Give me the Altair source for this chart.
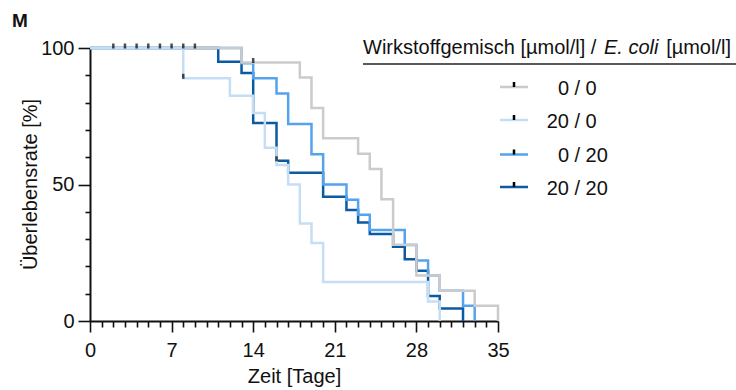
import altair as alt
import pandas as pd

# Kaplan-Meier survival curves, one per treatment group
groups = ["0 / 0", "20 / 0", "0 / 20", "20 / 20"]
colors = ["#cbcbcb", "#c6ddf6", "#55a2ee", "#0b5ba3"]

days_00 = [0, 13, 18, 19, 20, 23, 24, 25, 26, 28, 30, 33, 35]
surv_00 = [100, 94.7, 89.2, 78.0, 66.9, 61.3, 55.7, 44.6, 27.9, 16.7, 11.1, 5.6, 0]

days_200 = [0, 8, 12, 14, 15, 16, 17, 18, 19, 20, 29, 30]
surv_200 = [100, 88.9, 82.5, 76.2, 63.5, 57.1, 50.0, 35.7, 28.6, 14.3, 7.1, 0]

days_020 = [0, 13, 14, 16, 17, 19, 20, 22, 23, 24, 27, 28, 29, 30, 32, 33]
surv_020 = [100, 94.4, 88.9, 83.3, 72.2, 61.1, 50.0, 44.4, 38.9, 33.3, 27.8, 22.2, 16.7, 11.1, 5.6, 0]

days_2020 = [0, 11, 13, 14, 16, 17, 20, 22, 23, 24, 26, 27, 28, 29, 30, 32]
surv_2020 = [100, 95.0, 90.8, 72.5, 58.7, 54.3, 45.5, 40.7, 36.1, 31.9, 27.2, 22.6, 18.4, 9.2, 4.6, 0]

# censored observations (drawn as small black ticks)
censor_days = [2, 3, 4, 5, 6, 7, 8, 9, 8, 14, 16]
censor_surv = [100, 100, 100, 100, 100, 100, 100, 100, 88.9, 94.7, 58.7]

x_ticks = list(range(0, 36))
y_ticks = list(range(0, 101, 10))

FONT = "Liberation Sans"
FS = 20
INK = "#111111"

series = {
    "0 / 0": (days_00, surv_00),
    "20 / 0": (days_200, surv_200),
    "0 / 20": (days_020, surv_020),
    "20 / 20": (days_2020, surv_2020),
}

x_enc = alt.X(
    "day:Q",
    scale=alt.Scale(domain=[0, 35], nice=False, zero=False),
    axis=alt.Axis(
        values=x_ticks,
        labelExpr="datum.value % 7 === 0 ? datum.label : ''",
        tickSize={"condition": {"test": "datum.value % 7 === 0", "value": 11}, "value": 6},
        labelPadding=8,
        labelFlush=False,
        labelOverlap=False,
        title="Zeit [Tage]",
        titleX=204,
        titleY=61,
        titleBaseline="alphabetic",
        titleAlign="center",
    ),
)
y_enc = alt.Y(
    "surv:Q",
    scale=alt.Scale(domain=[0, 100], nice=False),
    axis=alt.Axis(
        values=y_ticks,
        labelExpr="datum.value % 50 === 0 ? datum.label : ''",
        tickSize={"condition": {"test": "datum.value % 50 === 0", "value": 12}, "value": 5},
        labelPadding=4,
        labelFlush=False,
        labelOverlap=False,
        title="Überlebensrate [%]",
        titleX=-54,
        titleY=136,
        titleBaseline="alphabetic",
        titleAlign="center",
        titleAngle=-90,
    ),
)

layers = []
draw_order = ["20 / 20", "0 / 20", "0 / 0", "20 / 0"]
for g in draw_order:
    d, s = series[g]
    df = pd.DataFrame({"day": d, "surv": s})
    layers.append(
        alt.Chart(df)
        .mark_line(interpolate="step-after", strokeWidth=2.5, color=colors[groups.index(g)])
        .encode(x=x_enc, y=y_enc)
    )

cens_df = pd.DataFrame({"day": censor_days, "surv": censor_surv})
layers.append(
    alt.Chart(cens_df)
    .mark_tick(orient="vertical", size=5, thickness=2.5, color="black", yOffset=-2)
    .encode(x=x_enc, y=y_enc)
)

# legend title in three runs (species name in italics) and a rule underneath
layers.append(
    alt.Chart(pd.DataFrame({"t": ["Wirkstoffgemisch [µmol/l] /"]}))
    .mark_text(align="left", baseline="alphabetic", font=FONT, fontSize=FS, color=INK)
    .encode(text="t:N", x=alt.value(273), y=alt.value(5.5))
)
layers.append(
    alt.Chart(pd.DataFrame({"t": ["E. coli"]}))
    .mark_text(align="left", baseline="alphabetic", font=FONT, fontSize=FS,
               fontStyle="italic", color=INK)
    .encode(text="t:N", x=alt.value(514), y=alt.value(5.5))
)
layers.append(
    alt.Chart(pd.DataFrame({"t": ["[µmol/l]"]}))
    .mark_text(align="right", baseline="alphabetic", font=FONT, fontSize=FS, color=INK)
    .encode(text="t:N", x=alt.value(641), y=alt.value(5.5))
)
layers.append(
    alt.Chart(pd.DataFrame({"a": [0]}))
    .mark_rule(color="#222222", strokeWidth=1.6)
    .encode(x=alt.value(273), x2=alt.value(650), y=alt.value(16))
)

# legend rows: coloured swatch with censor tick, dose pair aligned on the slash
row_y = [39, 72, 106.5, 139]
for i, g in enumerate(groups):
    yy = row_y[i]
    first, second = g.split(" / ")
    layers.append(
        alt.Chart(pd.DataFrame({"a": [0]}))
        .mark_rule(color=colors[i], strokeWidth=2.5)
        .encode(x=alt.value(410), x2=alt.value(438), y=alt.value(yy))
    )
    layers.append(
        alt.Chart(pd.DataFrame({"a": [0]}))
        .mark_rule(color="black", strokeWidth=2.5)
        .encode(x=alt.value(424), y=alt.value(yy - 5), y2=alt.value(yy))
    )
    layers.append(
        alt.Chart(pd.DataFrame({"t": [first]}))
        .mark_text(align="right", baseline="middle", font=FONT, fontSize=FS, color=INK)
        .encode(text="t:N", x=alt.value(479), y=alt.value(yy + 1.5))
    )
    layers.append(
        alt.Chart(pd.DataFrame({"t": ["/ " + second]}))
        .mark_text(align="left", baseline="middle", font=FONT, fontSize=FS, color=INK)
        .encode(text="t:N", x=alt.value(484.5), y=alt.value(yy + 1.5))
    )

# panel letter
layers.append(
    alt.Chart(pd.DataFrame({"t": ["M"]}))
    .mark_text(align="left", baseline="alphabetic", font=FONT, fontSize=19,
               fontWeight="bold", color=INK)
    .encode(text="t:N", x=alt.value(-78), y=alt.value(-21))
)

chart = (
    alt.layer(*layers)
    .properties(
        width=408,
        height=273,
        autosize=alt.AutoSizeParams(type="none"),
        padding={"left": 90, "top": 48, "right": 238, "bottom": 69},
    )
    .configure_view(stroke=None)
    .configure_axis(
        labelFont=FONT,
        labelFontSize=FS,
        labelColor=INK,
        titleFont=FONT,
        titleFontSize=FS,
        titleFontWeight="normal",
        titleColor=INK,
        domainColor=INK,
        domainWidth=2,
        tickColor=INK,
        tickWidth=1.6,
        grid=False,
    )
)

chart.save("out.html", embed_options={"renderer": "svg", "actions": False})
